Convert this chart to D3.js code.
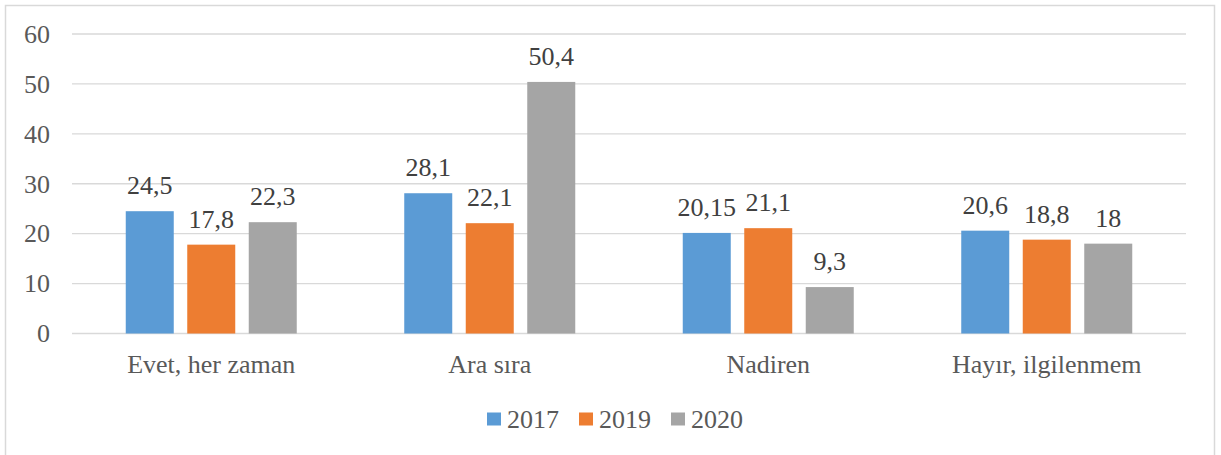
<!DOCTYPE html>
<html>
<head>
<meta charset="utf-8">
<script src="https://cdn.jsdelivr.net/npm/d3@7"></script>
</head>
<body style="margin:0;background:#fff">
<svg id="chart" width="1221" height="455"></svg>
<script>
const categories = ["Evet, her zaman", "Ara sıra", "Nadiren", "Hayır, ilgilenmem"];
const seriesNames = ["2017", "2019", "2020"];
const values2017 = [24.5, 28.1, 20.15, 20.6];
const values2019 = [17.8, 22.1, 21.1, 18.8];
const values2020 = [22.3, 50.4, 9.3, 18];
const labels2017 = ["24,5", "28,1", "20,15", "20,6"];
const labels2019 = ["17,8", "22,1", "21,1", "18,8"];
const labels2020 = ["22,3", "50,4", "9,3", "18"];
const yTicks = [0, 10, 20, 30, 40, 50, 60];
const colors = ["#5B9BD5", "#ED7D31", "#A5A5A5"];

const seriesValues = [values2017, values2019, values2020];
const seriesLabels = [labels2017, labels2019, labels2020];
const FONT = "Liberation Serif";

const svg = d3.select("#chart");

// chart border
svg.append("rect")
  .attr("x", 5.5).attr("y", 5.5).attr("width", 1209).attr("height", 460)
  .attr("fill", "#fff").attr("stroke", "#d9d9d9").attr("stroke-width", 1.5);

const x0 = d3.scaleBand().domain(categories).range([72, 1186]).padding(0);
const groupWidth = 171;
const x1 = d3.scaleBand().domain(seriesNames).range([0, groupWidth]).paddingInner(13.5 / 61.5).paddingOuter(0);
const y = d3.scaleLinear().domain([0, 60]).range([333.5, 34]);

// gridlines
svg.append("g")
  .selectAll("line")
  .data(yTicks)
  .join("line")
  .attr("x1", 72).attr("x2", 1186)
  .attr("y1", d => y(d)).attr("y2", d => y(d))
  .attr("stroke", "#d9d9d9").attr("stroke-width", 1.3);

// y axis labels
const yAxis = d3.axisLeft(y).tickValues(yTicks).tickSize(0).tickPadding(0);
const yg = svg.append("g").attr("transform", "translate(50,0)").call(yAxis);
yg.attr("font-family", FONT).attr("font-size", 26);
yg.select(".domain").remove();
yg.selectAll("text")
  .attr("fill", "#595959")
  .style("font-size", "26px")
  .style("font-family", FONT);

// x axis labels
const xAxis = d3.axisBottom(x0).tickSize(0).tickPadding(0);
const xg = svg.append("g").attr("transform", "translate(0,354.5)").call(xAxis);
xg.attr("font-family", FONT).attr("font-size", 26);
xg.select(".domain").remove();
xg.selectAll("text")
  .attr("fill", "#595959")
  .attr("dy", "0.71em")
  .style("font-size", "26px")
  .style("font-family", FONT);

// bars
const groups = svg.append("g").selectAll("g")
  .data(categories)
  .join("g")
  .attr("transform", d => `translate(${x0(d) + (x0.bandwidth() - groupWidth) / 2},0)`);

groups.each(function(cat, ci) {
  const g = d3.select(this);
  seriesNames.forEach((s, si) => {
    const v = seriesValues[si][ci];
    g.append("rect")
      .attr("x", x1(s))
      .attr("y", y(v))
      .attr("width", x1.bandwidth())
      .attr("height", y(0) - y(v))
      .attr("fill", colors[si]);
    g.append("text")
      .attr("x", x1(s) + x1.bandwidth() / 2)
      .attr("y", y(v) - 17)
      .attr("text-anchor", "middle")
      .attr("fill", "#404040")
      .style("font-size", "26px")
      .style("font-family", FONT)
      .text(seriesLabels[si][ci]);
  });
});

// legend
const legendItems = [
  { name: seriesNames[0], x: 487 },
  { name: seriesNames[1], x: 579 },
  { name: seriesNames[2], x: 671 }
];
const lg = svg.append("g");
legendItems.forEach((it, i) => {
  lg.append("rect")
    .attr("x", it.x).attr("y", 412.5).attr("width", 14).attr("height", 13)
    .attr("fill", colors[i]);
  lg.append("text")
    .attr("x", it.x + 20).attr("y", 428)
    .attr("fill", "#595959")
    .style("font-size", "26px")
    .style("font-family", FONT)
    .text(it.name);
});
</script>
</body>
</html>
